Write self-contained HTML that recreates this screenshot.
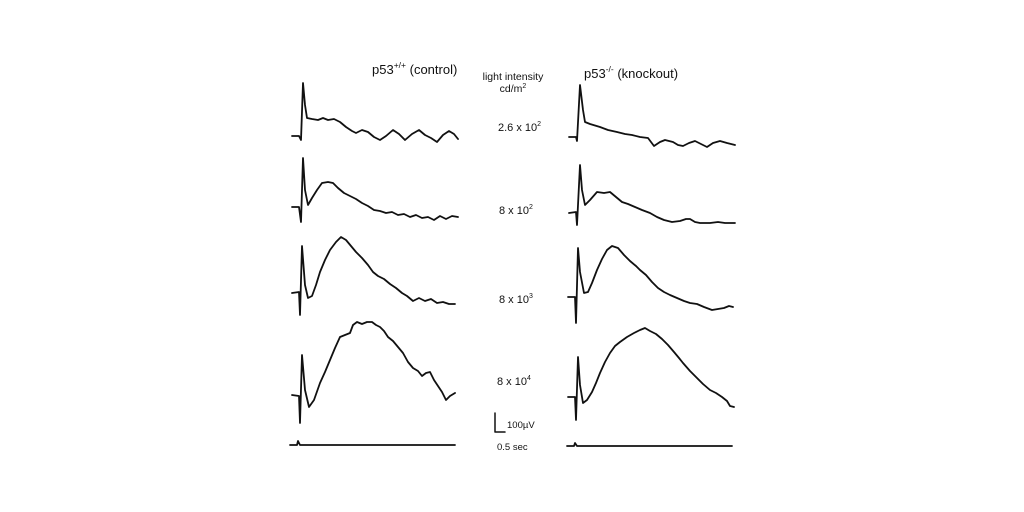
<!DOCTYPE html>
<html><head><meta charset="utf-8"><style>
html,body{margin:0;padding:0;background:#fff;}
svg{display:block;}
text{font-family:"Liberation Sans",Arial,sans-serif;fill:#111;}
</style></head><body>
<svg width="1024" height="512" viewBox="0 0 1024 512" xmlns="http://www.w3.org/2000/svg">
<g fill="none" stroke="#111" stroke-width="1.8" stroke-linejoin="round" stroke-linecap="round">
<polyline points="292,136 299,136 301,140 303,83 305,105 307,118 312,119 318,120 323,118 328,120 334,119 340,122 346,127 352,131 356,133 362,130 368,132 374,137 380,140 386,136 393,130 399,134 405,140 412,134 419,130 425,135 431,138 437,142 443,135 449,131 454,134 458,139"/>
<polyline points="292,207 299,207 301,222 303,158 305,190 308,205 312,198 317,190 322,183 328,182 333,183 338,188 344,193 350,196 356,199 362,203 368,206 374,210 380,211 386,213 392,212 398,215 404,214 410,217 416,215 422,218 428,217 434,220 440,216 446,219 452,216 458,217"/>
<polyline points="292,293 299,292 300,315 302,246 305,285 308,298 312,296 316,285 320,272 325,260 330,250 336,242 341,237 346,240 351,246 356,252 362,258 368,265 373,272 378,276 384,279 390,284 396,288 402,293 407,296 413,301 419,298 425,301 431,299 437,303 443,302 449,304 455,304"/>
<polyline points="292,395 299,396 300,423 302,355 305,390 309,407 314,400 320,383 325,372 330,360 335,348 340,337 345,335 350,333 353,325 357,322 362,324 367,322 372,322 376,325 380,327 384,331 388,337 393,341 398,347 403,353 408,362 413,368 418,371 422,376 426,373 430,372 434,380 438,386 442,392 446,400 450,396 455,393"/>
<polyline points="290,445 297,445 298,441 300,445 455,445"/>
<polyline points="569,137 576,137 577,141 580,85 583,110 585,122 590,124 600,127 608,130 617,132 625,134 632,135 640,137 648,138 654,146 660,142 665,140 673,142 678,145 683,146 689,143 695,141 701,144 707,147 713,143 720,141 727,143 735,145"/>
<polyline points="569,213 576,212 577,225 580,165 582,190 585,205 590,200 597,192 604,193 610,192 616,197 622,202 628,204 635,207 642,210 650,213 657,217 664,220 672,222 680,221 686,219 690,219 695,222 700,223 710,223 718,222 725,223 735,223"/>
<polyline points="568,297 575,297 576,323 578,248 580,272 584,293 588,292 592,283 597,270 602,259 607,250 612,246 618,248 624,255 630,261 636,266 640,270 646,275 652,282 658,288 664,292 670,295 677,298 684,301 690,303 697,304 704,307 712,310 718,309 724,308 729,306 733,307"/>
<polyline points="568,397 575,397 576,420 578,357 580,385 583,403 587,400 592,392 596,383 600,373 605,362 610,353 615,346 620,342 627,337 634,333 640,330 645,328 650,331 656,334 662,339 668,345 674,352 679,358 683,363 690,371 697,378 703,384 710,390 716,393 722,397 727,401 730,406 734,407"/>
<polyline points="567,446 574,446 575,443 577,446 732,446"/>
<polyline points="495,413 495,432 505,432" stroke-width="1.5"/>
</g>
<text x="372" y="74" font-size="13">p53<tspan font-size="8.5" dy="-6">+/+</tspan><tspan dy="6"> (control)</tspan></text>
<text x="584" y="78" font-size="13">p53<tspan font-size="8.5" dy="-6">-/-</tspan><tspan dy="6"> (knockout)</tspan></text>
<text x="513" y="80" font-size="10.5" text-anchor="middle">light intensity</text>
<text x="513" y="92" font-size="10.5" text-anchor="middle">cd/m<tspan font-size="7" dy="-4">2</tspan></text>
<text x="498" y="131" font-size="11">2.6 x 10<tspan font-size="7" dy="-5">2</tspan></text>
<text x="499" y="214" font-size="11">8 x 10<tspan font-size="7" dy="-5">2</tspan></text>
<text x="499" y="303" font-size="11">8 x 10<tspan font-size="7" dy="-5">3</tspan></text>
<text x="497" y="385" font-size="11">8 x 10<tspan font-size="7" dy="-5">4</tspan></text>
<text x="507" y="428" font-size="9.5">100µV</text>
<text x="497" y="450" font-size="9.5">0.5 sec</text>
</svg>
</body></html>
